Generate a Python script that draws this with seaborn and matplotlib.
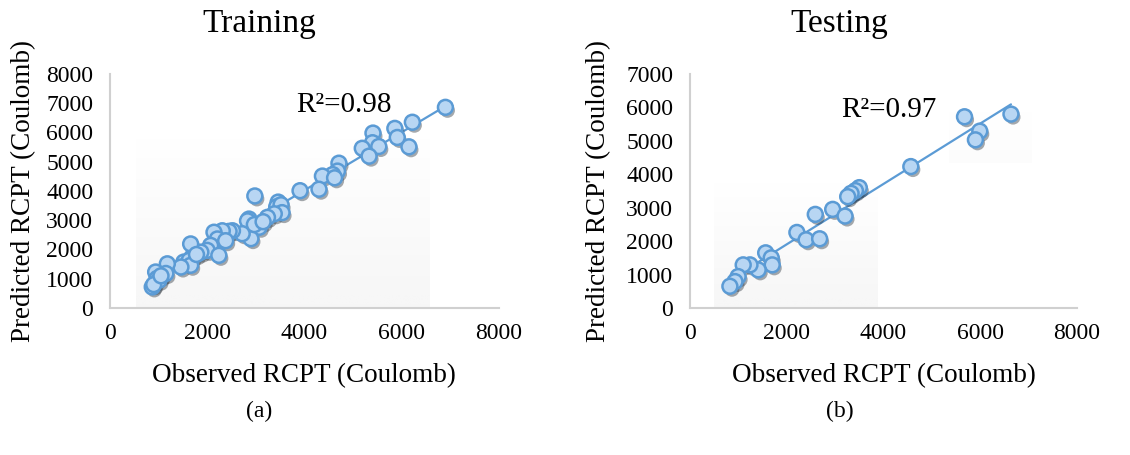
import matplotlib
matplotlib.use("Agg")
import matplotlib.pyplot as plt
import matplotlib.patheffects as pe
import numpy as np
import seaborn as sns

# Observed vs predicted RCPT (Coulomb)
train_obs = [6900, 6220, 6150, 5860, 5910, 5410, 5400, 5530, 5190, 5330,
             4710, 4680, 4580, 4370, 4300, 4620, 3910, 2980, 3460, 3430,
             3520, 3540, 3380, 3240, 3070, 2860, 2830, 2900, 2720, 2520,
             2450, 2310, 2140, 2210, 2070, 2000, 1870, 1690, 1660, 2240,
             1520, 1630, 1660, 1460, 1180, 1150, 940, 970, 870, 1010,
             900, 1050, 2970, 3150, 2380, 1780]
train_pred = [6860, 6350, 5510, 6140, 5830, 5980, 5650, 5520, 5460, 5190,
              4950, 4680, 4560, 4510, 4060, 4450, 4010, 3830, 3620, 3460,
              3530, 3260, 3220, 3100, 2760, 3040, 2980, 2370, 2540, 2640,
              2620, 2640, 2590, 2360, 2140, 1970, 1910, 1740, 2190, 1800,
              1570, 1630, 1460, 1400, 1510, 1180, 1230, 1010, 720, 950,
              800, 1100, 2850, 2950, 2300, 1830]

test_obs = [6635, 5675, 5990, 5900, 4565, 3500, 3420, 3330, 3260, 2950,
            3205, 2590, 2210, 2400, 2680, 1565, 1680, 1700, 1410, 1240,
            1100, 995, 930, 825]
test_pred = [5800, 5720, 5290, 5030, 4230, 3600, 3510, 3430, 3330, 2950,
             2750, 2800, 2260, 2040, 2070, 1650, 1500, 1290, 1140, 1290,
             1290, 940, 790, 650]

titles = ["Training", "Testing"]
r2_labels = ["R\u00b2=0.98", "R\u00b2=0.97"]
panel_tags = ["(a)", "(b)"]
y_max = [8000, 7000]

sns.set_style("white")
plt.rcParams["font.family"] = ["Liberation Serif", "DejaVu Serif"]
for key in ["text.color", "axes.labelcolor", "xtick.color", "ytick.color"]:
    plt.rcParams[key] = "black"

edge_blue = "#5b9bd5"
fill_blue = "#b8d6f3"

fig = plt.figure(figsize=(11.3, 4.55), dpi=100)
ax_a = fig.add_axes([0.0973, 0.3231, 0.3442, 0.5143])
ax_b = fig.add_axes([0.6106, 0.3231, 0.3425, 0.5143])

panels = [
    (ax_a, train_obs, train_pred, (3830, 6950), 0.229, -0.19),
    (ax_b, test_obs, test_pred, (3130, 5930), 0.743, -0.204),
]

# white at the top fading to light grey at the bottom
grad = np.linspace(0.0, 1.0, 60).reshape(-1, 1)

for i, (ax, xs, ys, r2_pos, title_x, ylab_x) in enumerate(panels):
    xs = np.array(xs)
    ys = np.array(ys)

    # faint grey shading behind the points (excel shadow artefact)
    if i == 0:
        ax.imshow(grad, extent=(530, 6560, 0, 6100), aspect="auto",
                  cmap="Greys", vmin=0, vmax=14, zorder=0)
    else:
        ax.imshow(grad, extent=(500, 3880, 0, 3950), aspect="auto",
                  cmap="Greys", vmin=0, vmax=14, zorder=0)
        ax.imshow(grad, extent=(5350, 7050, 4350, 6150), aspect="auto",
                  cmap="Greys", vmin=0, vmax=40, zorder=0)

    sns.regplot(x=xs, y=ys, ax=ax, scatter=False, ci=None, truncate=True,
                line_kws={"color": edge_blue, "lw": 1.6, "zorder": 2})
    sns.scatterplot(x=xs, y=ys, ax=ax, s=115, color=fill_blue,
                    edgecolor=edge_blue, linewidth=1.8, zorder=3,
                    path_effects=[pe.SimplePatchShadow(offset=(1.5, -2.2),
                                                       alpha=0.45),
                                  pe.Normal()])

    ax.set_xlim(0, 8000)
    ax.set_ylim(0, y_max[i])
    ax.set_xticks(np.arange(0, 8001, 2000))
    ax.set_yticks(np.arange(0, y_max[i] + 1, 1000))
    ax.tick_params(axis="both", length=0, labelsize=17, colors="black")
    ax.tick_params(axis="y", pad=12)
    ax.tick_params(axis="x", pad=11)

    for side in ["top", "right"]:
        ax.spines[side].set_visible(False)
    for side in ["left", "bottom"]:
        ax.spines[side].set_color("#d0d0d0")
        ax.spines[side].set_linewidth(1.5)

    ax.set_xlabel("Observed RCPT (Coulomb)", fontsize=19.5)
    ax.set_ylabel("Predicted RCPT (Coulomb)", fontsize=19.5)
    ax.xaxis.set_label_coords(0.5, -0.235)
    ax.yaxis.set_label_coords(ylab_x, 0.5)

    ax.text(r2_pos[0], r2_pos[1], r2_labels[i], fontsize=21,
            ha="left", va="center")

    fig.text(title_x, 0.948, titles[i], fontsize=24, ha="center",
             va="center")
    fig.text(title_x, 0.095, panel_tags[i], fontsize=17, ha="center",
             va="center")

fig.savefig("out.png", dpi=100)
plt.close(fig)
